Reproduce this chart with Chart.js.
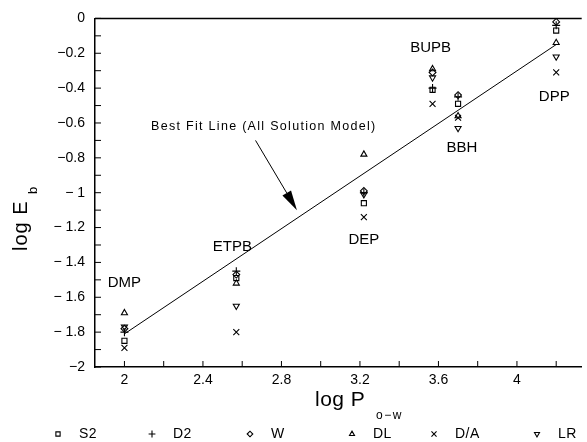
<!DOCTYPE html>
<html>
<head>
<meta charset="utf-8">
<script src="https://cdn.jsdelivr.net/npm/chart.js@4.4.1/dist/chart.umd.min.js"></script>
<style>
  html, body { margin: 0; padding: 0; background: #fff; }
  #wrap { width: 587px; height: 442px; }
</style>
</head>
<body>
<div id="wrap"><canvas id="chart" width="587" height="442"></canvas></div>
<script>
// Compuestos y su log P(o-w)
const compounds = ["DMP", "ETPB", "DEP", "BUPB", "BBH", "DPP"];
const logPow = [2.0, 2.57, 3.22, 3.57, 3.70, 4.20];

// log Eb para cada modelo
const seriesNames = ["S2", "D2", "W", "DL", "D/A", "LR"];
const s2 = [-1.85, -1.49, -1.06, -0.41, -0.49, -0.07];
const d2 = [-1.80, -1.45, -1.00, -0.40, -0.45, -0.04];
const w  = [-1.78, -1.47, -0.99, -0.31, -0.44, -0.02];
const dl = [-1.69, -1.52, -0.78, -0.29, -0.56, -0.14];
const da = [-1.89, -1.80, -1.14, -0.49, -0.57, -0.31];
const lr = [-1.77, -1.65, -1.01, -0.34, -0.63, -0.22];
const seriesValues = [s2, d2, w, dl, da, lr];

// Linea de mejor ajuste
const fitX = [2.0, 4.2];
const fitY = [-1.81, -0.15];

// Ticks
const xTicks = [2.0, 2.2, 2.4, 2.6, 2.8, 3.0, 3.2, 3.4, 3.6, 3.8, 4.0, 4.2];
const xTickLabels = ["2", "", "2.4", "", "2.8", "", "3.2", "", "3.6", "", "4", ""];
const yTicks = [-2, -1.9, -1.8, -1.7, -1.6, -1.5, -1.4, -1.3, -1.2, -1.1, -1,
                -0.9, -0.8, -0.7, -0.6, -0.5, -0.4, -0.3, -0.2, -0.1, 0];
const yTickLabels = ["\u22122", "", "\u2212 1.8", "", "\u2212 1.6", "", "\u2212 1.4", "", "\u2212 1.2", "", "\u2212 1",
                     "", "\u22120.8", "", "\u22120.6", "", "\u22120.4", "", "\u22120.2", "", "0"];

const FONT = '"Liberation Sans", Arial, sans-serif';
// estilo de marcador: [pointStyle, rotacion, radio]
const markers = {
  "S2": ["rect", 0, 3.6],
  "D2": ["cross", 0, 4],
  "W": ["rectRot", 0, 3.4],
  "DL": ["triangle", 0, 3.5],
  "D/A": ["crossRot", 0, 4.2],
  "LR": ["triangle", 180, 3.5]
};

const datasets = seriesNames.map((name, i) => ({
  label: name,
  data: logPow.map((x, j) => ({ x: x, y: seriesValues[i][j] })),
  pointStyle: markers[name][0],
  rotation: markers[name][1],
  pointRadius: markers[name][2],
  pointBorderWidth: 1.1,
  borderColor: "#000",
  backgroundColor: "rgba(0,0,0,0)"
}));

datasets.push({
  label: "fit",
  data: fitX.map((x, i) => ({ x: x, y: fitY[i] })),
  showLine: true,
  borderColor: "#000",
  borderWidth: 1,
  pointRadius: 0
});

function drawText(ctx, txt, x, y, size, align, baseline, spacing) {
  ctx.font = size + "px " + FONT;
  ctx.textAlign = align || "center";
  ctx.textBaseline = baseline || "middle";
  ctx.letterSpacing = spacing || "0px";
  ctx.fillText(txt, x, y);
  ctx.letterSpacing = "0px";
}

const extras = {
  id: "extras",
  afterDraw(chart) {
    const ctx = chart.ctx;
    const xs = chart.scales.x, ys = chart.scales.y;
    const area = chart.chartArea;
    ctx.save();
    ctx.strokeStyle = "#000";
    ctx.fillStyle = "#000";

    // borde superior
    ctx.lineWidth = 1.5;
    ctx.beginPath();
    ctx.moveTo(area.left, area.top);
    ctx.lineTo(area.right, area.top);
    ctx.stroke();

    // ticks hacia dentro
    ctx.lineWidth = 1;
    xTicks.forEach(v => {
      const px = xs.getPixelForValue(v);
      ctx.beginPath();
      ctx.moveTo(px, area.bottom);
      ctx.lineTo(px, area.bottom - 6);
      ctx.stroke();
    });
    yTicks.forEach(v => {
      const py = ys.getPixelForValue(v);
      ctx.beginPath();
      ctx.moveTo(area.left, py);
      ctx.lineTo(area.left + 6, py);
      ctx.stroke();
    });

    // titulo eje x: log P(o-w)
    drawText(ctx, "log P", 315, 406, 21, "left", "alphabetic", "0.5px");
    drawText(ctx, "o\u2212w", 376, 419, 12, "left", "alphabetic", "1.5px");

    // titulo eje y: log Eb (rotado)
    ctx.save();
    ctx.translate(27, 251);
    ctx.rotate(-Math.PI / 2);
    drawText(ctx, "log E", 0, 0, 20, "left", "alphabetic", "1px");
    drawText(ctx, "b", 57, 10, 13, "left", "alphabetic");
    ctx.restore();

    // etiquetas de compuestos
    const labelPos = [[2.0, -1.52], [2.55, -1.31], [3.22, -1.27], [3.56, -0.17], [3.72, -0.74], [4.19, -0.45]];
    compounds.forEach((c, i) => {
      drawText(ctx, c, xs.getPixelForValue(labelPos[i][0]), ys.getPixelForValue(labelPos[i][1]), 15);
    });

    // anotacion de la linea de ajuste
    drawText(ctx, "Best Fit Line (All Solution Model)", xs.getPixelForValue(2.71), ys.getPixelForValue(-0.62), 12.5, "center", "middle", "1.3px");
    const ax0 = xs.getPixelForValue(2.668), ay0 = ys.getPixelForValue(-0.70);
    const ax1 = xs.getPixelForValue(2.879), ay1 = ys.getPixelForValue(-1.10);
    const ang = Math.atan2(ay1 - ay0, ax1 - ax0);
    const hl = 20, hw = 5;
    const bx = ax1 - hl * Math.cos(ang), by = ay1 - hl * Math.sin(ang);
    ctx.lineWidth = 1;
    ctx.beginPath();
    ctx.moveTo(ax0, ay0);
    ctx.lineTo(bx, by);
    ctx.stroke();
    ctx.beginPath();
    ctx.moveTo(ax1, ay1);
    ctx.lineTo(bx + hw * Math.sin(ang), by - hw * Math.cos(ang));
    ctx.lineTo(bx - hw * Math.sin(ang), by + hw * Math.cos(ang));
    ctx.closePath();
    ctx.fill();

    // leyenda inferior
    const legX = [58, 152, 250, 352, 434, 537];
    const legY = 434;
    seriesNames.forEach((name, i) => {
      ctx.lineWidth = 1.1;
      ctx.fillStyle = "rgba(0,0,0,0)";
      if (Chart.helpers && Chart.helpers.drawPoint) {
        Chart.helpers.drawPoint(ctx, {
          pointStyle: markers[name][0],
          rotation: markers[name][1],
          radius: markers[name][2] - 0.6,
          borderWidth: 1.1
        }, legX[i], legY);
      }
      ctx.fillStyle = "#000";
      drawText(ctx, name, legX[i] + 21, legY, 14, "left", "middle", "0.5px");
    });

    ctx.restore();
  }
};

new Chart(document.getElementById("chart"), {
  type: "scatter",
  data: { datasets: datasets },
  options: {
    responsive: false,
    animation: false,
    devicePixelRatio: 1,
    layout: { padding: { top: 17, left: 0, right: 0, bottom: 0 } },
    plugins: {
      legend: { display: false },
      tooltip: { enabled: false }
    },
    scales: {
      x: {
        type: "linear",
        min: 1.85,
        max: 4.33,
        afterBuildTicks: s => { s.ticks = xTicks.map(v => ({ value: v })); },
        afterFit: s => { s.height = 75; },
        grid: { display: false, drawTicks: false },
        border: { display: true, color: "#000", width: 1.5 },
        ticks: {
          autoSkip: false,
          maxRotation: 0,
          padding: 5,
          color: "#000",
          font: { family: FONT, size: 14 },
          callback: (v, i) => xTickLabels[i]
        }
      },
      y: {
        type: "linear",
        min: -2,
        max: 0,
        afterBuildTicks: s => { s.ticks = yTicks.map(v => ({ value: v })); },
        afterFit: s => { s.width = 95; },
        grid: { display: false, drawTicks: false },
        border: { display: true, color: "#000", width: 1.5 },
        ticks: {
          autoSkip: false,
          padding: 10,
          color: "#000",
          font: { family: FONT, size: 14 },
          callback: (v, i) => yTickLabels[i]
        }
      }
    }
  },
  plugins: [extras]
});
</script>
</body>
</html>
